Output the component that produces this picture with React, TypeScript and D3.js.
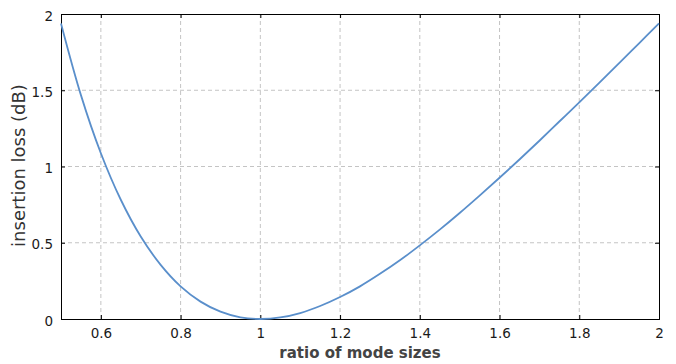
import { useEffect, useRef } from 'react'
import * as d3 from 'd3'

// ratio of mode sizes (x) and insertion loss in dB (y)
const ratios = [0.5, 0.55, 0.6, 0.65, 0.7, 0.75, 0.8, 0.85, 0.9, 0.95, 1.0, 1.05, 1.1, 1.15, 1.2, 1.25,
  1.3, 1.35, 1.4, 1.45, 1.5, 1.55, 1.6, 1.65, 1.7, 1.75, 1.8, 1.85, 1.9, 1.95, 2.0]
const lossDb = [1.938, 1.468, 1.087, 0.782, 0.541, 0.355, 0.214, 0.114, 0.048, 0.011, 0.0, 0.010, 0.039,
  0.085, 0.144, 0.214, 0.296, 0.385, 0.483, 0.586, 0.695, 0.809, 0.926, 1.046, 1.169, 1.295, 1.421,
  1.549, 1.678, 1.808, 1.938]
const xTicks = [0.6, 0.8, 1, 1.2, 1.4, 1.6, 1.8, 2]
const yTicks = [0, 0.5, 1, 1.5, 2]
const xTitle = 'ratio of mode sizes'
const yTitle = 'insertion loss (dB)'

const App = () => {
  const chart = useRef<SVGSVGElement>(null)

  useEffect(() => {
    const margin = { top: 14, right: 17, bottom: 45, left: 61 }
    const width = 676 - margin.left - margin.right
    const height = 364 - margin.top - margin.bottom

    const root = d3.select(chart.current)
    root.selectAll('*').remove()
    const svg = root.append('g')
      .attr('transform', 'translate(' + margin.left + ',' + margin.top + ')')

    const x = d3.scaleLinear().domain([0.5, 2]).range([0, width])
    const y = d3.scaleLinear().domain([0, 2]).range([height, 0])

    // grid
    svg.append('g').selectAll('line')
      .data(xTicks.filter(t => t < 2))
      .enter().append('line')
      .attr('x1', d => x(d)).attr('x2', d => x(d))
      .attr('y1', 0).attr('y2', height)
      .attr('stroke', '#c4c4c4').attr('stroke-dasharray', '4,3')
    svg.append('g').selectAll('line')
      .data(yTicks.filter(t => t > 0 && t < 2))
      .enter().append('line')
      .attr('x1', 0).attr('x2', width)
      .attr('y1', d => y(d)).attr('y2', d => y(d))
      .attr('stroke', '#c4c4c4').attr('stroke-dasharray', '4,3')

    // axes, ticks pointing inward
    const font = '"DejaVu Sans", Verdana, sans-serif'
    const bottom = svg.append('g')
      .attr('transform', 'translate(0,' + height + ')')
      .call(d3.axisBottom(x).tickValues(xTicks).tickSize(-4).tickPadding(9).tickFormat(d3.format('')))
    const left = svg.append('g')
      .call(d3.axisLeft(y).tickValues(yTicks).tickSize(-4).tickPadding(8).tickFormat(d3.format('')))
    const top = svg.append('g')
      .call(d3.axisTop(x).tickValues(xTicks).tickSize(-4).tickFormat(() => ''))
    const right = svg.append('g')
      .attr('transform', 'translate(' + width + ',0)')
      .call(d3.axisRight(y).tickValues(yTicks).tickSize(-4).tickFormat(() => ''))
    for (const ax of [bottom, left, top, right]) {
      ax.select('.domain').attr('stroke', '#000')
      ax.selectAll('.tick line').attr('stroke', '#000')
      ax.selectAll('.tick text').attr('fill', '#1a1a1a').style('font-family', font).style('font-size', '13.5px')
    }
    left.selectAll('.tick text').attr('dy', '0.45em')

    // curve
    const line = d3.line<number>()
      .x((_, i) => x(ratios[i]))
      .y(d => y(d))
      .curve(d3.curveCatmullRom)
    svg.append('path')
      .datum(lossDb)
      .attr('d', line)
      .attr('fill', 'none')
      .attr('stroke', '#5a8fcb')
      .attr('stroke-width', 1.8)

    // titles
    svg.append('text')
      .attr('x', width / 2).attr('y', height + 39)
      .attr('text-anchor', 'middle')
      .attr('fill', '#444')
      .style('font-family', font).style('font-size', '15px').style('font-weight', 'bold')
      .text(xTitle)
    svg.append('text')
      .attr('transform', 'translate(' + (-36) + ',' + (height / 2 - 1) + ') rotate(-90)')
      .attr('text-anchor', 'middle')
      .attr('fill', '#333')
      .style('font-family', font).style('font-size', '18px')
      .text(yTitle)
  }, [])

  return (
    <svg ref={chart} width={676} height={364}
      style={{ position: 'absolute', left: 0, top: 0, background: '#fff' }} />
  )
}

export default App
